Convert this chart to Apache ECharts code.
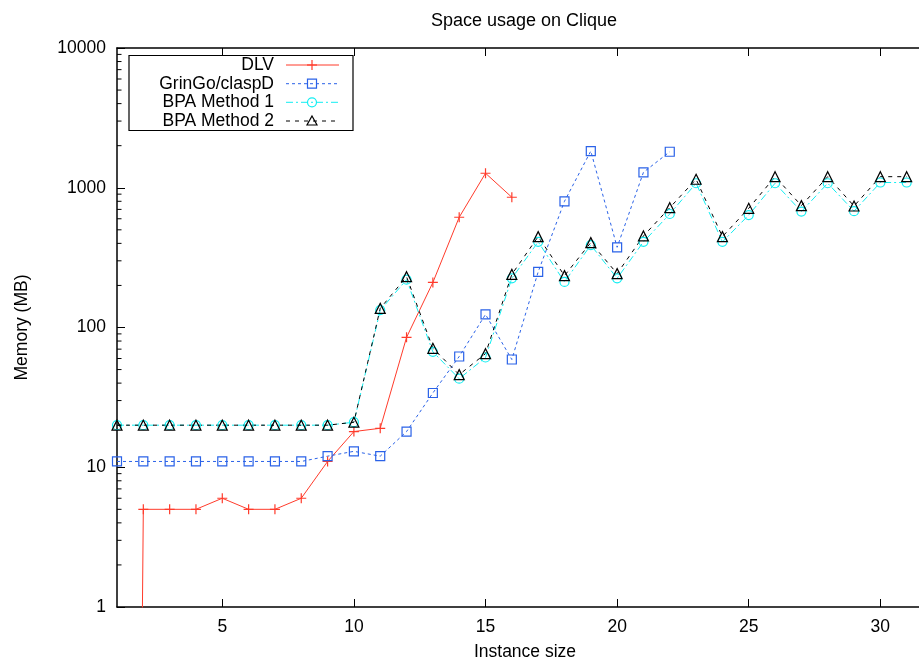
<!DOCTYPE html>
<html>
<head>
<meta charset="utf-8">
<title>Space usage on Clique</title>
<script src="https://cdn.jsdelivr.net/npm/echarts@6/dist/echarts.min.js"></script>
<style>
  html, body { margin: 0; padding: 0; background: #fff; }
  #chart { width: 919px; height: 662px; }
</style>
</head>
<body>
<div id="chart"></div>
<script>
// Instance sizes on the x axis
const sizes = [1, 2, 3, 4, 5, 6, 7, 8, 9, 10, 11, 12, 13, 14, 15, 16, 17, 18, 19, 20,
               21, 22, 23, 24, 25, 26, 27, 28, 29, 30, 31];

// Memory in MB per solver; DLV at size 1 reported essentially zero memory
const dlvMem = [1e-20, 5, 5, 5, 6, 5, 5, 6, 11, 18, 19, 85, 210, 615, 1270, 855];
const gringoMem = [11, 11, 11, 11, 11, 11, 11, 11, 12, 13, 12, 18, 34, 62, 124, 59, 250,
                   800, 1830, 375, 1290, 1810];
const bpa1Mem = [20, 20, 20, 20, 20, 20, 20, 20, 20, 21, 133, 220, 67, 43, 61, 225, 410,
                 212, 389, 225, 410, 649, 1077, 410, 638, 1077, 675, 1077, 680, 1090, 1090];
const bpa2Mem = [20, 20, 20, 20, 20, 20, 20, 20, 20, 21, 137, 231, 71, 46, 65, 240, 447,
                 235, 405, 243, 452, 720, 1150, 447, 713, 1200, 745, 1200, 740, 1200, 1200];

const seriesNames = ['DLV', 'GrinGo/claspD', 'BPA Method 1', 'BPA Method 2'];

// Tick values
const xTicks = [5, 10, 15, 20, 25, 30];
const yMinor = [];
for (const decade of [1, 10, 100, 1000]) {
  for (let m = 2; m <= 9; m++) yMinor.push(m * decade);
}

const FONT = "'Liberation Sans', Helvetica, Arial, sans-serif";
const RED = '#ff3b2b';
const BLUE = '#2a62e8';
const CYAN = '#12eef2';
const BLACK = '#000000';

const pairs = (vals) => vals.map((v, i) => [sizes[i], v]);

const plusPath = 'path://M0,5L10,5M5,0L5,10';

function lineSeries(name, vals, color, dash, symbol, size) {
  return {
    name: name,
    type: 'line',
    data: pairs(vals),
    symbol: symbol,
    symbolSize: size,
    showAllSymbol: true,
    clip: true,
    lineStyle: { color: color, width: 1, type: dash },
    itemStyle: { color: 'rgba(0,0,0,0)', borderColor: color, borderWidth: 1.2 },
    emphasis: { disabled: true },
    z: 3
  };
}

// Legend drawn as a framed box: right-aligned labels, then line sample with marker
const legendX = 129, legendY = 55.5, legendW = 224, legendH = 75;
const legendRows = [65, 83.7, 102.3, 121];
const sampleX0 = 286, sampleX1 = 339, markX = 312;
const legendGraphics = [
  { type: 'rect', shape: { x: legendX, y: legendY, width: legendW, height: legendH },
    style: { fill: '#fff', stroke: '#000', lineWidth: 1.2 }, z: 10 }
];
const legendStyles = [
  { color: RED, dash: null },
  { color: BLUE, dash: [3, 3] },
  { color: CYAN, dash: [7, 3, 2, 3] },
  { color: BLACK, dash: [4, 5] }
];
seriesNames.forEach((name, i) => {
  const y = legendRows[i];
  const st = legendStyles[i];
  legendGraphics.push({
    type: 'text', x: 274, y: y, z: 11,
    style: { text: name, textAlign: 'right', textVerticalAlign: 'middle',
             font: '17.5px ' + FONT, fill: '#000' }
  });
  legendGraphics.push({
    type: 'line', z: 11,
    shape: { x1: sampleX0, y1: y, x2: sampleX1, y2: y },
    style: { stroke: st.color, lineWidth: 1, lineDash: st.dash }
  });
});
// Legend markers
legendGraphics.push(
  { type: 'line', z: 12, shape: { x1: markX - 5, y1: legendRows[0], x2: markX + 5, y2: legendRows[0] },
    style: { stroke: RED, lineWidth: 1.2 } },
  { type: 'line', z: 12, shape: { x1: markX, y1: legendRows[0] - 5, x2: markX, y2: legendRows[0] + 5 },
    style: { stroke: RED, lineWidth: 1.2 } },
  { type: 'rect', z: 12, shape: { x: markX - 4.5, y: legendRows[1] - 4.5, width: 9, height: 9 },
    style: { fill: 'none', stroke: BLUE, lineWidth: 1.2 } },
  { type: 'circle', z: 12, shape: { cx: markX, cy: legendRows[2], r: 4.5 },
    style: { fill: 'none', stroke: CYAN, lineWidth: 1.2 } },
  { type: 'polygon', z: 12,
    shape: { points: [[markX, legendRows[3] - 5], [markX + 5, legendRows[3] + 4], [markX - 5, legendRows[3] + 4]] },
    style: { fill: 'none', stroke: BLACK, lineWidth: 1.2 } }
);

const chart = echarts.init(document.getElementById('chart'), null, { renderer: 'canvas' });

const option = {
  animation: false,
  backgroundColor: '#fff',
  textStyle: { fontFamily: FONT },
  // the plot frame runs past the right edge of the canvas (x up to 32)
  grid: { left: 117, top: 48, width: 816, height: 559, containLabel: false,
          outerBoundsMode: 'none' },
  graphic: [
    { type: 'text', x: 524, y: 21, z: 10,
      style: { text: 'Space usage on Clique', textAlign: 'center', textVerticalAlign: 'middle',
               font: '18px ' + FONT, fill: '#000' } }
  ].concat(legendGraphics),
  xAxis: [
    {
      type: 'value', min: 1, max: 32, position: 'bottom',
      name: 'Instance size', nameLocation: 'middle', nameGap: 36,
      nameTextStyle: { fontSize: 17.5, color: '#000', fontFamily: FONT },
      axisLine: { show: true, onZero: false, lineStyle: { color: '#000', width: 1.5 } },
      axisTick: { show: true, inside: true, length: 8, customValues: xTicks,
                  lineStyle: { color: '#000', width: 1 } },
      axisLabel: { show: true, customValues: xTicks, margin: 11, fontSize: 17.5, color: '#000',
                   fontFamily: FONT },
      splitLine: { show: false }
    },
    {
      type: 'value', min: 1, max: 32, position: 'top',
      axisLine: { show: true, onZero: false, lineStyle: { color: '#000', width: 1.5 } },
      axisTick: { show: true, inside: true, length: 8, customValues: xTicks,
                  lineStyle: { color: '#000', width: 1 } },
      axisLabel: { show: false },
      splitLine: { show: false }
    }
  ],
  yAxis: [
    {
      type: 'log', logBase: 10, min: 1, max: 10000,
      name: 'Memory (MB)', nameLocation: 'middle', nameGap: 86, nameRotate: 90,
      nameTextStyle: { fontSize: 17.5, color: '#000', fontFamily: FONT },
      axisLine: { show: true, onZero: false, lineStyle: { color: '#000', width: 1.5 } },
      axisTick: { show: true, inside: true, length: 8, lineStyle: { color: '#000', width: 1 } },
      axisLabel: { show: true, margin: 11, fontSize: 17.5, color: '#000', fontFamily: FONT,
                   formatter: (v) => String(Math.round(v)) },
      splitLine: { show: false },
      minorTick: { show: false }
    }
  ],
  series: [
    lineSeries(seriesNames[0], dlvMem, RED, 'solid', plusPath, 10),
    lineSeries(seriesNames[1], gringoMem, BLUE, [3, 3], 'rect', 9),
    lineSeries(seriesNames[2], bpa1Mem, CYAN, [7, 3, 2, 3], 'circle', 9),
    lineSeries(seriesNames[3], bpa2Mem, BLACK, [4, 5], 'triangle', 10),
    {
      // minor ticks of the log axis at 2..9 times each decade
      type: 'custom',
      data: yMinor.map((v) => [1, v]),
      silent: true,
      clip: false,
      z: 4,
      renderItem: function (params, api) {
        const p = api.coord([1, api.value(1)]);
        return {
          type: 'line',
          shape: { x1: p[0], y1: p[1], x2: p[0] + 4.5, y2: p[1] },
          style: { stroke: '#000', lineWidth: 1 }
        };
      }
    }
  ]
};

chart.setOption(option);
</script>
</body>
</html>
